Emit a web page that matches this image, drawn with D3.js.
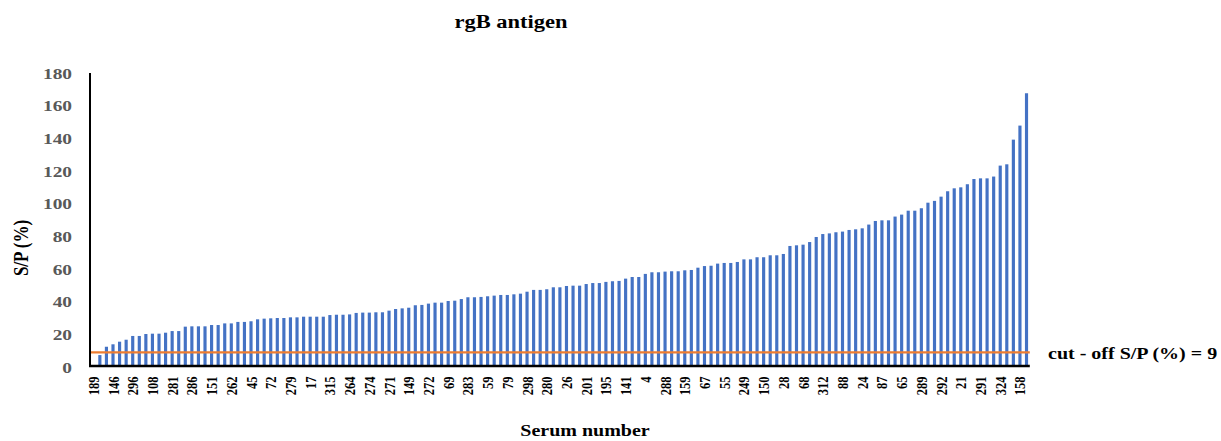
<!DOCTYPE html>
<html>
<head>
<meta charset="utf-8">
<script src="https://cdn.jsdelivr.net/npm/d3@7"></script>
<style>
  html, body { margin: 0; padding: 0; background: #fff; }
  svg { display: block; }
  text { font-family: "Liberation Serif", "Times New Roman", serif; font-weight: bold; }
</style>
</head>
<body>
<svg id="chart" width="1221" height="441"></svg>
<script>
// Shown x tick labels (every third serum), left to right
const shownLabels = [189, 146, 296, 108, 281, 286, 151, 262, 45, 72, 279, 17, 315, 264, 274, 271,
  149, 272, 69, 283, 59, 79, 298, 280, 26, 201, 195, 141, 4, 288, 159, 67, 55, 249, 150, 28, 68,
  312, 88, 24, 87, 65, 289, 292, 21, 291, 324, 158];
const labelEvery = 3;

// S/P (%) per serum, sorted ascending (143 sera)
const spValues = [
  1.0,
  7.3, 12.4, 13.9, 15.5, 16.7, 19.0, 19.0, 20.2, 20.4, 20.4,
  21.0, 22.0, 22.0, 24.7, 24.9, 24.9, 24.9, 25.7, 25.7, 26.7,
  26.7, 27.6, 27.6, 28.0, 29.2, 29.6, 29.8, 30.0, 30.0, 30.4,
  30.4, 30.8, 30.8, 30.8, 30.8, 31.8, 32.0, 32.0, 32.2, 33.1,
  33.3, 33.3, 33.5, 33.5, 34.5, 35.5, 35.9, 36.3, 37.8, 38.0,
  38.8, 39.4, 39.4, 40.4, 40.6, 41.6, 42.7, 42.7, 42.9, 43.3,
  43.7, 44.1, 44.1, 44.5, 44.9, 46.1, 47.2, 47.2, 47.6, 48.8,
  48.8, 49.6, 49.8, 49.8, 50.8, 51.4, 51.4, 52.1, 52.5, 52.7,
  54.1, 55.1, 55.1, 57.0, 58.0, 58.0, 58.4, 58.6, 58.6, 59.2,
  59.4, 60.8, 61.8, 62.0, 63.3, 63.7, 63.7, 64.3, 65.9, 65.9,
  67.2, 67.2, 68.4, 68.4, 69.2, 74.1, 74.5, 74.9, 76.5, 79.6,
  81.4, 81.8, 82.5, 82.9, 83.9, 84.3, 84.9, 87.2, 89.4, 89.8,
  89.8, 92.1, 93.3, 95.7, 95.7, 97.2, 100.6, 101.7, 104.3, 107.6,
  109.4, 110.0, 111.9, 115.1, 115.5, 115.5, 116.6, 123.3, 124.1, 139.2,
  147.8, 167.6
];
const cutOff = 9;
const yTicks = [0, 20, 40, 60, 80, 100, 120, 140, 160, 180];

const chartTitle = "rgB antigen";
const xTitle = "Serum number";
const yTitle = "S/P (%)";
const cutOffLabel = "cut - off S/P (%) = 9";

(function () {
  // ---- layout ----
  const SX = 1.25; // horizontal stretch of the source image's lettering
  const pLeft = 90, pRight = 1029.8, pTop = 73, pBottom = 367;

  const svg = d3.select("#chart");

  const idx = d3.range(spValues.length);
  const x = d3.scaleBand().domain(idx).range([pLeft, pRight]).paddingInner(0.52).paddingOuter(0.26);
  const y = d3.scaleLinear().domain([0, 180]).range([pBottom, pTop]);

  function stretchText(sel, px, py) {
    sel.attr("transform", `translate(${px},${py}) scale(${SX},1)`);
    return sel;
  }

  // bars
  svg.append("g").selectAll("rect").data(spValues).join("rect")
    .attr("x", (d, i) => x(i))
    .attr("width", x.bandwidth())
    .attr("y", d => y(d))
    .attr("height", d => y(0) - y(d))
    .attr("fill", "#4472C4");

  // cut-off line
  svg.append("line")
    .attr("x1", pLeft).attr("x2", pRight)
    .attr("y1", y(cutOff)).attr("y2", y(cutOff))
    .attr("stroke", "#ED7D31").attr("stroke-width", 2.2);

  // y axis
  const yAxis = d3.axisLeft(y).tickValues(yTicks).tickSize(0).tickPadding(0);
  const gy = svg.append("g").attr("transform", `translate(${pLeft},0)`).call(yAxis);
  gy.select(".domain").remove();
  gy.selectAll(".tick text").each(function () {
    const t = d3.select(this);
    t.attr("x", null).attr("dy", null)
      .attr("text-anchor", "end")
      .attr("dominant-baseline", "central")
      .attr("fill", "#595959")
      .style("font-size", "15.5px")
      .style("font-family", "Liberation Serif")
      .style("font-weight", "bold");
    stretchText(t, -18, 0);
  });
  svg.append("line")
    .attr("x1", pLeft).attr("x2", pLeft).attr("y1", pTop).attr("y2", pBottom)
    .attr("stroke", "#000").attr("stroke-width", 2);

  // x axis
  const xAxis = d3.axisBottom(x).tickSize(0).tickPadding(0)
    .tickValues(idx.filter(i => i % labelEvery === 0))
    .tickFormat(i => shownLabels[i / labelEvery]);
  const gx = svg.append("g").attr("transform", `translate(0,${pBottom})`).call(xAxis);
  gx.select(".domain").remove();
  gx.selectAll(".tick text").each(function () {
    const t = d3.select(this);
    t.attr("y", null).attr("dy", null)
      .attr("text-anchor", "end")
      .attr("dominant-baseline", "central")
      .attr("fill", "#000")
      .style("font-size", "12.5px")
      .style("font-family", "Liberation Serif")
      .style("font-weight", "bold");
    t.attr("transform", `translate(0,9.5) scale(${SX},1) rotate(-90)`);
  });
  svg.append("line")
    .attr("x1", pLeft - 1).attr("x2", pRight).attr("y1", pBottom - 1).attr("y2", pBottom - 1)
    .attr("stroke", "#000").attr("stroke-width", 2.5);

  // titles
  stretchText(svg.append("text").text(chartTitle)
    .attr("text-anchor", "middle").style("font-size", "18px"), 511, 28);

  stretchText(svg.append("text").text(xTitle)
    .attr("text-anchor", "middle").style("font-size", "16px"), 585, 436);

  svg.append("text").text(yTitle)
    .attr("text-anchor", "middle")
    .attr("dominant-baseline", "central")
    .style("font-size", "17px")
    .attr("transform", `translate(21,248) scale(${SX},1) rotate(-90)`);

  stretchText(svg.append("text").text(cutOffLabel)
    .attr("text-anchor", "start")
    .attr("dominant-baseline", "central")
    .style("font-size", "16px"), 1048, y(cutOff) + 1);
})();
</script>
</body>
</html>
